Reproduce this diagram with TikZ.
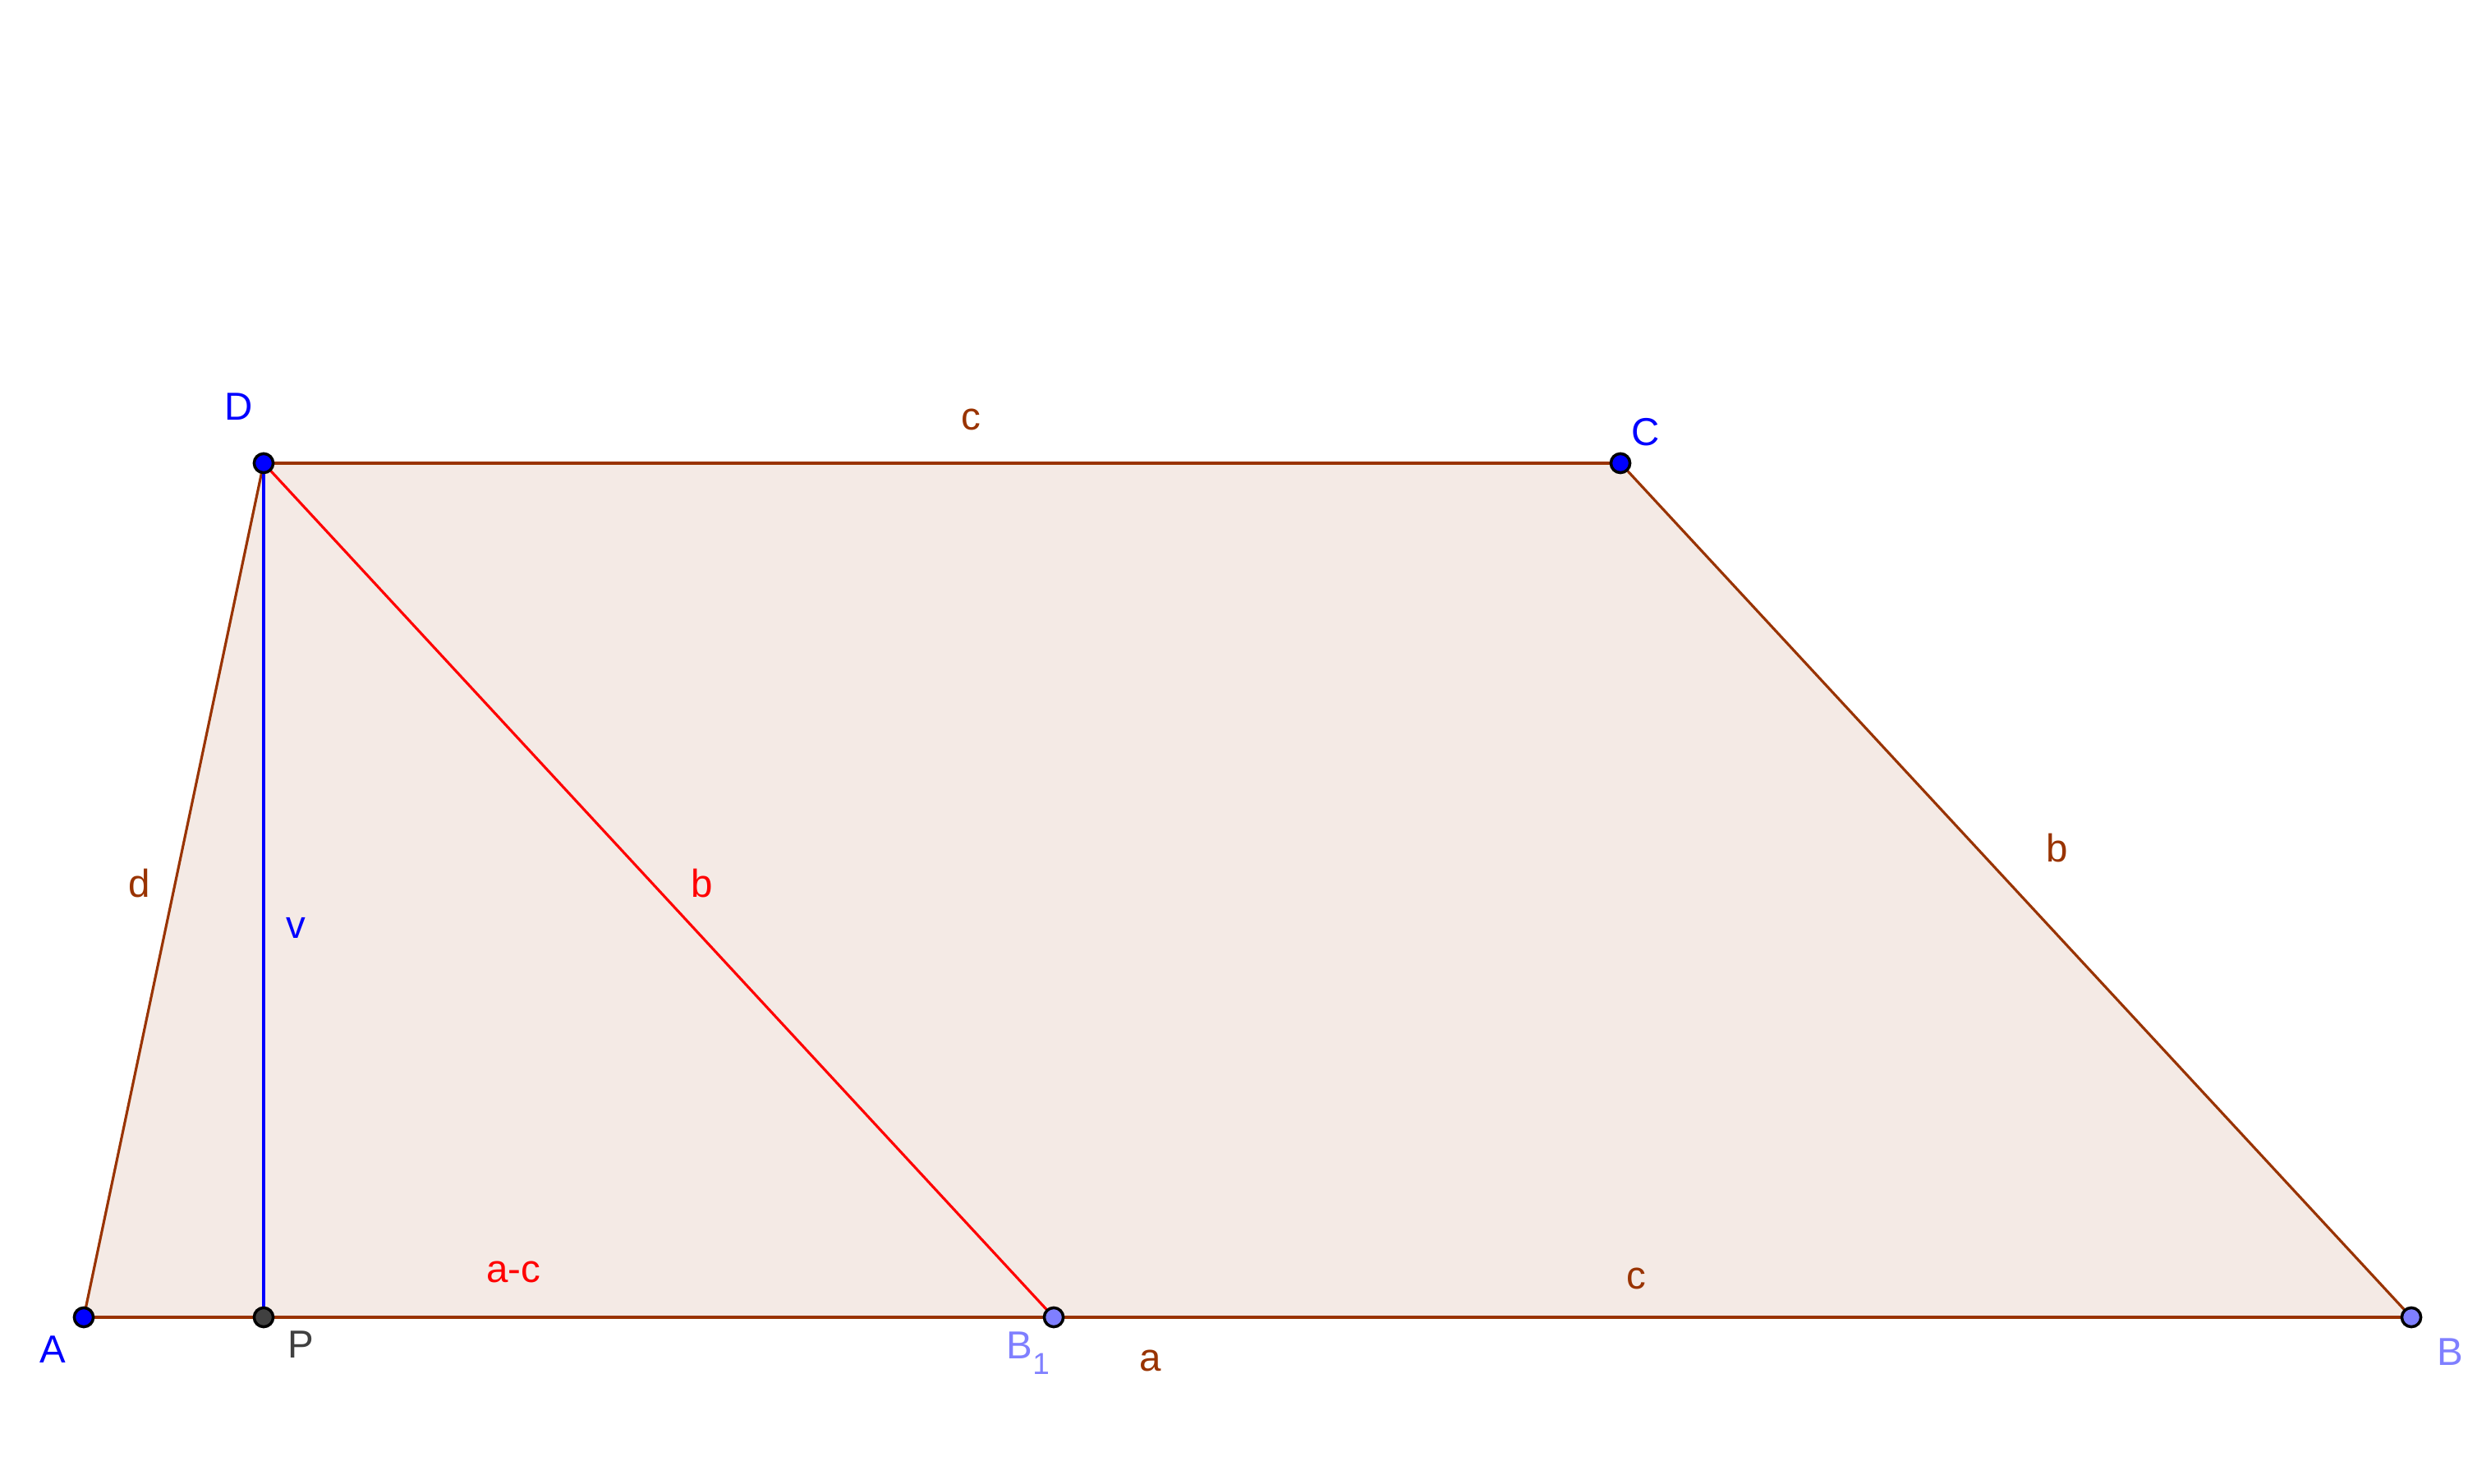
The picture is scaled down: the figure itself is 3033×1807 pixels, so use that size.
\documentclass[tikz,border=0pt]{standalone}
\usepackage{fontspec}
\setmainfont{Liberation Sans}
\usetikzlibrary{positioning}
\definecolor{edgebrown}{RGB}{153,51,0}
\definecolor{fillbrown}{RGB}{244,234,229}
\definecolor{ptblue}{RGB}{0,0,255}
\definecolor{ptlight}{RGB}{127,127,255}
\definecolor{ptgray}{RGB}{64,64,64}
\begin{document}
\begin{tikzpicture}[
    x=0.01cm, y=-0.01cm,
    edge/.style={draw=edgebrown, line width=0.9pt},
    point/.style={circle, draw=black, line width=1pt, inner sep=0pt, minimum size=6.6pt},
    lbl/.style={inner sep=0pt, font=\fontsize{13.5}{16}\selectfont}
]
\useasboundingbox (0,0) rectangle (3033,1807);

% vertices of the trapezoid
\coordinate (A) at (102,1604);
\coordinate (P) at (321,1604);
\coordinate (B1) at (1283,1604);
\coordinate (B) at (2936,1604);
\coordinate (D) at (321,564);
\coordinate (C) at (1973,564);

% polygon
\fill[fillbrown] (A) -- (B) -- (C) -- (D) -- cycle;
\draw[edge] (A) -- (B);
\draw[edge] (B) -- (C);
\draw[edge] (C) -- (D);
\draw[edge] (D) -- (A);
\draw[red, line width=0.9pt] (D) -- (B1);
\draw[ptblue, line width=0.9pt] (D) -- (P);

% points
\node[point, fill=ptblue] (ptA) at (A) {};
\node[point, fill=ptgray] (ptP) at (P) {};
\node[point, fill=ptlight] (ptB1) at (B1) {};
\node[point, fill=ptlight] (ptB) at (B) {};
\node[point, fill=ptblue] (ptD) at (D) {};
\node[point, fill=ptblue] (ptC) at (C) {};

% point labels
\node[lbl, text=ptblue] (labA) at (64,1643) {A};
\node[lbl, text=ptgray] (labP) at (366,1637) {P};
\node[lbl, text=ptlight, anchor=base west] (labB1) at (1225,1654) {B\raisebox{-5.5pt}{\fontsize{10.5}{12}\selectfont 1}};
\node[lbl, text=ptlight] (labB) at (2983,1646) {B};
\node[lbl, text=ptblue] (labD) at (291,495) {D};
\node[lbl, text=ptblue] (labC) at (2004,526) {C};

% segment labels
\node[lbl, text=edgebrown] (labc) at (1182,511) {c};
\node[lbl, text=edgebrown] (labb) at (2505,1033) {b};
\node[lbl, text=edgebrown] (labd) at (170,1076) {d};
\node[lbl, text=edgebrown] (laba) at (1401,1657) {a};
\node[lbl, text=edgebrown] (labc2) at (1992,1557) {c};
\node[lbl, text=red] (labb2) at (855,1076) {b};
\node[lbl, text=red] (labac) at (625,1549) {a-c};
\node[lbl, text=ptblue] (labv) at (360,1130) {v};

\end{tikzpicture}
\end{document}
